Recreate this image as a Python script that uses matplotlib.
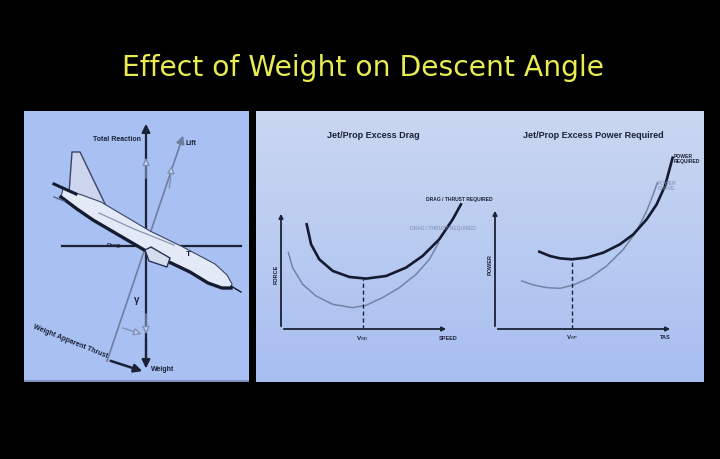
import numpy as np
import matplotlib.pyplot as plt
from matplotlib.patches import Polygon, Rectangle
from matplotlib.colors import LinearSegmentedColormap

# ---- data ----
title = 'Effect of Weight on Descent Angle'

# Jet/Prop Excess Drag  (speed vs force, arbitrary units, axis length = 100)
drag_speed_dark = [15.3, 17.9, 22.8, 30.8, 40.7, 50.6, 62.5, 74.4, 84.3, 94.2, 102.2, 107.1]
drag_force_dark = [88.7, 71.8, 59.0, 49.2, 44.1, 42.7, 44.9, 52.0, 61.9, 76.0, 92.9, 105.6]
drag_speed_light = [4.4, 6.9, 12.9, 20.8, 30.8, 42.7, 50.6, 60.5, 70.4, 80.4, 88.3, 93.8]
drag_force_light = [64.7, 52.0, 37.9, 28.0, 20.9, 18.1, 20.1, 26.6, 35.0, 46.3, 59.0, 73.2]
v_md = 48.8
f_md = 42.6

# Jet/Prop Excess Power Required  (TAS vs power)
pow_tas_dark = [24.9, 30.9, 36.5, 43.1, 51.5, 60.9, 70.2, 77.7, 85.2, 90.8, 95.5, 99.8]
pow_pwr_dark = [63.9, 60.3, 58.4, 57.6, 59.0, 63.1, 70.0, 78.2, 90.6, 103.0, 118.2, 141.6]
pow_tas_light = [15.0, 21.5, 29.0, 36.5, 44.0, 53.4, 62.7, 72.1, 79.6, 85.2, 88.9, 91.2]
pow_pwr_light = [39.7, 36.4, 34.2, 33.6, 36.4, 42.4, 52.1, 65.8, 81.0, 97.5, 111.3, 120.9]
v_mp = 43.3
p_mp = 57.6

# aircraft diagram (panel pixel coords)
fus_top_x = [39, 58, 77, 126, 159, 191, 203, 208]
fus_top_y = [78, 84, 91, 120, 136, 153, 164, 173]
fus_bot_x = [207, 198, 184, 166, 122, 69, 53, 37]
fus_bot_y = [177, 177, 172, 161, 140, 109, 98, 86]
fin_x = [45, 48, 56, 83]
fin_y = [82, 41, 41, 97]
nacelle_x = [121, 127, 146, 143, 125]
nacelle_y = [139, 136, 147, 156, 150]

navy = '#1b2238'
grey_line = '#6f7d9e'

fig = plt.figure(figsize=(7.2, 4.6), dpi=100, facecolor='black')
W, H = 720, 460

def rect(x0, y0, x1, y1):
    return [x0 / W, 1 - y1 / H, (x1 - x0) / W, (y1 - y0) / H]

# title
fig.text(363 / W, 1 - 68 / H, title, color='#e8ec50', fontsize=20.3,
         ha='center', va='center', family='DejaVu Sans')

# ---- left panel: forces on the aircraft ----
axl = fig.add_axes(rect(24, 112, 249, 383))
axl.set_xlim(0, 225)
axl.set_ylim(271, 0)
axl.axis('off')
axl.add_patch(Rectangle((0, 0), 225, 271, color='#a9c0f2', zorder=0))
axl.plot([0, 225], [269.5, 269.5], color='#7d8fb8', lw=2, zorder=1)

axl.plot([38, 217], [135, 135], color=navy, lw=1.6, zorder=2)
axl.annotate('', xy=(122, 10), xytext=(122, 258),
             arrowprops=dict(arrowstyle='-|>', color=navy, lw=1.6, mutation_scale=12), zorder=2)
axl.annotate('', xy=(122, 260), xytext=(122, 225),
             arrowprops=dict(arrowstyle='-|>', color=navy, lw=1.6, mutation_scale=12), zorder=2)
axl.annotate('', xy=(160, 22), xytext=(82, 253),
             arrowprops=dict(arrowstyle='-|>', color=grey_line, lw=1.2, mutation_scale=12), zorder=2)
# hollow component arrows
for (x0, y0, x1, y1) in [(122, 70, 122, 44), (145, 80, 148, 52), (122, 200, 122, 226), (96, 216, 120, 224)]:
    axl.annotate('', xy=(x1, y1), xytext=(x0, y0),
                 arrowprops=dict(arrowstyle='-|>', fc='#c8d4f4', ec='#8090b0', lw=1.0,
                                 mutation_scale=11), zorder=3)
axl.annotate('', xy=(121, 261), xytext=(84, 249),
             arrowprops=dict(arrowstyle='-|>', color=navy, lw=1.8, mutation_scale=12), zorder=3)

# aircraft
axl.add_patch(Polygon(list(zip(fin_x, fin_y)), closed=True, fc='#cdd6ee', ec='#3a4564', lw=1.0, zorder=4))
axl.add_patch(Polygon(list(zip(fus_top_x + fus_bot_x, fus_top_y + fus_bot_y)), closed=True,
                      fc='#e3e9f7', ec='#3a4462', lw=0.8, zorder=5))
axl.plot(fus_bot_x, fus_bot_y, color='#151b30', lw=2.4, zorder=6)
axl.add_patch(Polygon(list(zip(nacelle_x, nacelle_y)), closed=True, fc='#d4dcf0', ec='#2a3350', lw=1.0, zorder=6))
axl.plot([30, 52], [73, 83], color='#151b30', lw=2.2, zorder=6)
axl.plot([207, 217], [175, 181], color='#151b30', lw=1.0, zorder=6)
axl.plot([75, 110, 150], [102, 118, 134], color='#8c96b0', lw=0.9, zorder=6)
axl.plot([30, 40], [86, 90], color='#5a6686', lw=1.0, zorder=6)

txt = dict(color=navy, fontweight='bold', family='Liberation Sans')
axl.text(117, 28, 'Total Reaction', ha='right', va='center', fontsize=5, **txt)
axl.text(162, 32, 'Lift', ha='left', va='center', fontsize=5, **txt)
axl.text(90, 134, 'Drag', ha='center', va='center', fontsize=4.5, zorder=7, **txt)
axl.text(164, 143, 'T', ha='center', va='center', fontsize=6, zorder=7, **txt)
axl.text(113, 188, 'γ', ha='center', va='center', fontsize=7, **txt)
axl.text(46, 230, 'Weight Apparent Thrust', ha='center', va='center', fontsize=5,
         rotation=-22, **txt)
axl.text(127, 258, 'Weight', ha='left', va='center', fontsize=5, **txt)

# ---- right panel background ----
axb = fig.add_axes(rect(256, 112, 704, 383))
grad = np.linspace(0, 1, 100).reshape(-1, 1)
cmap = LinearSegmentedColormap.from_list('bg', ['#cad7f0', '#b9cbf1', '#a8bef0'])
axb.imshow(grad, aspect='auto', cmap=cmap, extent=(0, 1, 0, 1), origin='upper')
axb.axis('off')

lab = dict(color=navy, fontweight='bold', family='Liberation Sans')
faint = '#7a8ab2'

def curve_panel(r, xs_d, ys_d, xs_l, ys_l, vx, vy):
    ax = fig.add_axes(r)
    ax.set_xlim(0, 100)
    ax.set_ylim(0, 100)
    ax.axis('off')
    ax.patch.set_alpha(0)
    ax.annotate('', xy=(100, 0), xytext=(0, 0), annotation_clip=False,
                arrowprops=dict(arrowstyle='-|>', color=navy, lw=1.3, mutation_scale=6))
    ax.annotate('', xy=(0, 100), xytext=(0, 0), annotation_clip=False,
                arrowprops=dict(arrowstyle='-|>', color=navy, lw=1.3, mutation_scale=6))
    ax.plot(xs_l, ys_l, color='#7383a6', lw=1.1, clip_on=False)
    ax.plot(xs_d, ys_d, color='#141a30', lw=1.9, clip_on=False)
    ax.plot([vx, vx], [0, vy], color=navy, lw=1.0, ls=(0, (3, 2)))
    return ax

# Jet/Prop Excess Drag
ax1 = curve_panel(rect(281, 212, 449, 330), drag_speed_dark, drag_force_dark,
                  drag_speed_light, drag_force_light, v_md, f_md)
ax1.text(54.8, 165, 'Jet/Prop Excess Drag', ha='center', va='center', fontsize=6.5, **lab)
ax1.text(v_md, -7, 'V$_{MD}$', ha='center', va='center', fontsize=4.5, **lab)
ax1.text(99.4, -7, 'SPEED', ha='center', va='center', fontsize=4, **lab)
ax1.text(-3, 47.5, 'FORCE', ha='center', va='center', fontsize=4, rotation=90, **lab)
ax1.text(126, 111, 'DRAG / THRUST REQUIRED', ha='right', va='center', fontsize=3.6, **lab)
ax1.text(96.5, 85.6, 'DRAG / THRUST REQUIRED', ha='center', va='center', fontsize=3.6,
         color=faint, family='Liberation Sans')

# Jet/Prop Excess Power Required
ax2 = curve_panel(rect(495, 209, 673, 330), pow_tas_dark, pow_pwr_dark,
                  pow_tas_light, pow_pwr_light, v_mp, p_mp)
ax2.text(55, 161, 'Jet/Prop Excess Power Required', ha='center', va='center', fontsize=6.5, **lab)
ax2.text(v_mp, -6, 'V$_{MP}$', ha='center', va='center', fontsize=4.5, **lab)
ax2.text(95.5, -6, 'TAS', ha='center', va='center', fontsize=4, **lab)
ax2.text(-2.5, 53.7, 'POWER', ha='center', va='center', fontsize=4, rotation=90, **lab)
ax2.text(100.6, 141, 'POWER\nREQUIRED', ha='left', va='center', fontsize=3.6,
         linespacing=1.0, **lab)
ax2.text(91.6, 119, 'POWER\nCURVE', ha='left', va='center', fontsize=3.6, linespacing=1.0,
         color=faint, family='Liberation Sans')

fig.savefig('out.png', dpi=100, facecolor='black')
